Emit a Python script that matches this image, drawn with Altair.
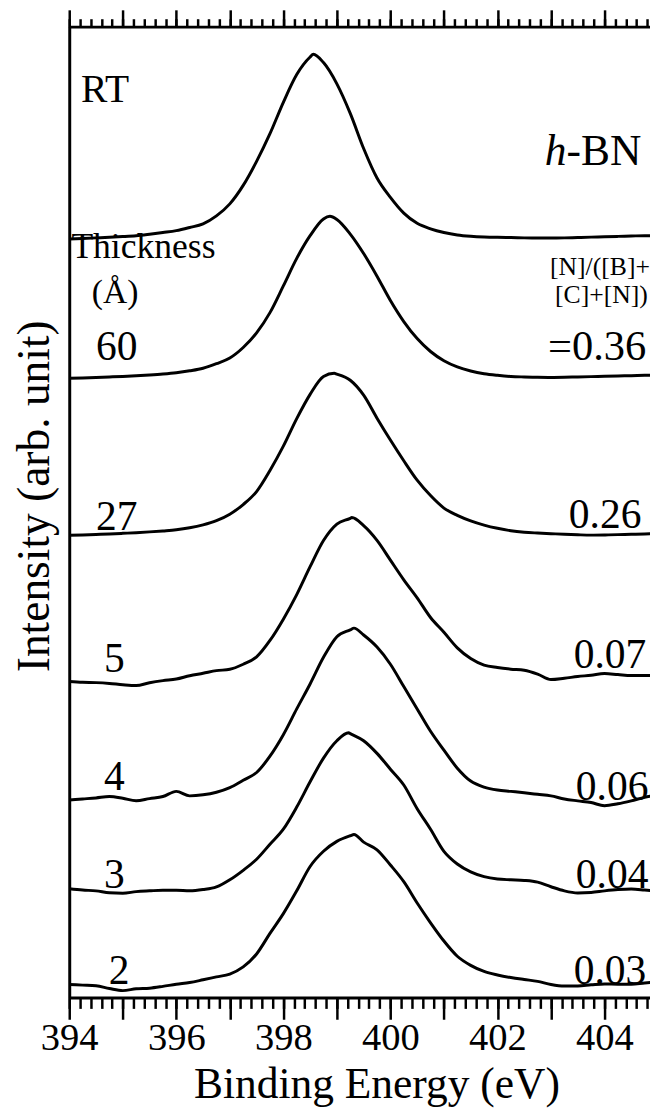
import altair as alt
import pandas as pd

# ---------------- data ----------------
energy = [394.0, 394.25, 394.5, 394.75, 395.0, 395.25, 395.5, 395.75, 396.0, 396.25,
          396.5, 396.75, 397.0, 397.25, 397.5, 397.75, 398.0, 398.25, 398.5, 398.75,
          399.0, 399.25, 399.5, 399.75, 400.0, 400.25, 400.5, 400.75, 401.0, 401.25,
          401.5, 401.75, 402.0, 402.25, 402.5, 402.75, 403.0, 403.25, 403.5, 403.75,
          404.0, 404.25, 404.5, 404.75, 404.9]

# normalised N1s intensity (% of peak) for each spectrum
int_RT = [0, 0.3, 0.6, 0.9, 1.3, 1.8, 2.6, 3.5, 4.5, 6.2, 8.2, 12.5,
          19, 29, 42, 57, 74, 89, 98.5, 95.5, 84, 68, 49, 33,
          22.5, 14, 8.5, 5.5, 3.5, 2.2, 1.5, 1.1, 0.9, 0.8, 0.6, 0.5,
          0.5, 0.6, 0.8, 1.0, 1.2, 1.4, 1.6, 1.8, 1.8]
int_60 = [0, 0.2, 0.5, 0.8, 1.1, 1.5, 2, 2.6, 3.4, 4.6, 6.2, 9,
          12.5, 19, 28, 40.5, 57, 74, 88, 98.3, 98, 89, 77, 63,
          48, 35, 24.5, 16.5, 10.8, 7, 4.5, 2.8, 1.8, 1.1, 0.8, 0.6,
          0.5, 0.6, 0.8, 1.0, 1.2, 1.4, 1.6, 1.8, 1.9]
int_27 = [0, 0.2, 0.5, 0.8, 1.2, 1.6, 2.1, 2.7, 3.4, 4.6, 6.4, 9,
          13, 19, 27, 40, 55, 72, 87, 98, 99.5, 95.7, 86.5, 72.3,
          58.8, 46, 34, 24.5, 16.8, 12.3, 8.9, 6.3, 4.3, 2.8, 1.9, 1.4,
          1, 0.6, 0.3, 0.1, 0.2, 0.4, 0.6, 0.8, 1]
int_5 = [0, -0.5, -0.7, -1.2, -2, -2.5, -0.8, 0.5, 1.5, 3.5, 5, 6.6,
         7.4, 10.5, 15, 25, 38, 53, 70, 86, 96, 99.5, 95, 86,
         74, 62, 51, 39, 30, 20.5, 14, 10, 8.5, 7.5, 6.8, 4.5,
         1.2, 2, 3, 3.8, 4.8, 4.2, 3.6, 3.7, 3.7]
int_4 = [0, 0.6, 1.2, 2, 1, -0.5, 0.8, 2, 5, 2.4, 3, 4.5,
         7.2, 11.5, 16, 25.5, 38, 53, 67.5, 83, 95, 99, 96, 89,
         79, 66, 53, 40, 29, 18.5, 11, 7.5, 5.8, 5, 4.2, 3.3,
         2.4, 0.6, -0.5, -1.5, -3.3, -2.2, -0.5, 1.5, 2.4]
int_3 = [1.3, 0.5, 0, -1.2, -1.5, -0.5, 0, 0.4, 0.4, 0, 0.8, 2.5,
         7, 13, 20, 29.5, 39, 53, 69, 84, 95, 99.5, 95, 87,
         77, 67, 52, 39, 25, 17, 12, 9, 7.5, 7, 6.6, 5.5,
         2.6, 0, -1.3, -1, 0, 0.8, 1.2, 0.5, 0]
int_2 = [1.4, 1, 0.6, -1.2, -2.6, -1.4, -1, 0.2, 1.6, 2.7, 4.5, 6.4,
         8.3, 13, 21.5, 35, 48, 63, 79, 89, 95.5, 99.2, 95, 90,
         80, 69, 55, 42, 30, 20, 14, 10, 7.7, 6, 4.7, 3.5,
         1.4, 0.4, 0.5, 1.2, 1.8, 1.6, 1.6, 2.4, 2.8]

spectra = ["RT", "60", "27", "5", "4", "3", "2"]
intensities = [int_RT, int_60, int_27, int_5, int_4, int_3, int_2]
# maximum of each peak (binding energy, eV), intensity 100 %
peak_energy = [398.56, 398.87, 398.95, 399.28, 399.32, 399.22, 399.32]
# vertical stacking offset and peak height of each trace (arb. unit)
offsets = [768, 627, 468, 320, 200, 108, 11]
peak_heights = [187, 164, 164, 166, 174, 160, 154]

# annotations
left_text = ["RT", "Thickness", "(Å)", "60", "27", "5", "4", "3", "2"]
left_x = [394.22, 394.04, 394.42, 394.5, 394.5, 394.65, 394.65, 394.65, 394.74]
left_y = [907, 749, 703, 645, 473, 330, 210, 111, 14]
left_size = [40, 36, 34, 42, 42, 42, 42, 42, 42]

right_text = ["[N]/([B]+", "[C]+[N])", "=0.36", "0.26", "0.07", "0.06", "0.04", "0.03", "-BN"]
right_x = [404.85, 404.81, 404.78, 404.69, 404.78, 404.82, 404.82, 404.78, 404.69]
right_y = [732, 703, 645, 475, 334, 200, 111, 14, 843]
right_size = [26, 26, 43, 42, 42, 42, 42, 42, 44]

italic_text = ["h"]
italic_x = [403.29]
italic_y = [843]
italic_size = [44]

even_ticks = [394, 396, 398, 400, 402, 404]
odd_ticks = [395, 397, 399, 401, 403]
major_ticks = [394, 395, 396, 397, 398, 399, 400, 401, 402, 403, 404]
minor_ticks = [round(394 + 0.2 * i, 1) for i in range(55)]

# ---------------- build tables ----------------
rows = []
for name, vals, pe, off, ph in zip(spectra, intensities, peak_energy, offsets, peak_heights):
    pts = list(zip(energy, vals)) + [(pe, 100.0)]
    pts.sort(key=lambda p: p[0])
    for e, v in pts:
        rows.append({"energy": e, "signal": off + ph * v / 100.0, "spectrum": name})
df = pd.DataFrame(rows)

left_df = pd.DataFrame({"t": left_text, "x": left_x, "y": left_y, "s": left_size})
right_df = pd.DataFrame({"t": right_text, "x": right_x, "y": right_y, "s": right_size})
ital_df = pd.DataFrame({"t": italic_text, "x": italic_x, "y": italic_y, "s": italic_size})

FONT = "Liberation Serif"
TOP = 20                      # y pixel of the top frame line
W, H = 588, 1003 - TOP
xscale = alt.Scale(domain=[394, 404.85], nice=False, zero=False)
yscale = alt.Scale(domain=[0, H], nice=False, zero=False)

yaxis = alt.Axis(
    orient="left", ticks=False, labels=False, grid=False,
    domainColor="black", domainWidth=3,
    title="Intensity (arb. unit)", titleFont=FONT, titleFontSize=46,
    titleFontWeight="normal", titleColor="black", titleAngle=270,
    titleBaseline="alphabetic", titleAlign="center", titleX=-21, titleY=495 - TOP)

lines = alt.Chart(df).mark_line(
    color="black", strokeWidth=3, interpolate="monotone", clip=True
).encode(
    x=alt.X("energy:Q", scale=xscale, axis=alt.Axis(
        orient="bottom", values=even_ticks, tickSize=22, tickWidth=2.5,
        tickColor="black", domainColor="black", domainWidth=3, grid=False,
        labelFont=FONT, labelFontSize=39, labelColor="black",
        labelBaseline="alphabetic", labelPadding=31,
        labelFlush=False, labelOverlap=False,
        title="Binding Energy (eV)", titleFont=FONT, titleFontSize=44,
        titleFontWeight="normal", titleColor="black", titleBaseline="alphabetic",
        titleAlign="center", titleX=311, titleY=101)),
    y=alt.Y("signal:Q", scale=yscale, axis=yaxis),
    detail="spectrum:N",
)

def tick_layer(values, orient, size, domain):
    data = pd.DataFrame({"v": values})
    return alt.Chart(data).mark_rule(strokeOpacity=0).encode(
        x=alt.X("v:Q", scale=xscale, axis=alt.Axis(
            orient=orient, values=values, tickSize=size, tickWidth=2.5,
            tickColor="black", labels=False, title=None, grid=False,
            domain=domain, domainColor="black", domainWidth=3))
    )

bottom_odd = tick_layer(odd_ticks, "bottom", 22, False)
bottom_minor = tick_layer(minor_ticks, "bottom", 11, False)
top_major = tick_layer(major_ticks, "top", 17, True)
top_minor = tick_layer(minor_ticks, "top", 8, False)

def text_layer(data, align, style="normal"):
    return alt.Chart(data).mark_text(
        align=align, baseline="alphabetic", font=FONT, color="black", fontStyle=style
    ).encode(
        x=alt.X("x:Q", scale=xscale, axis=None),
        y=alt.Y("y:Q", scale=yscale, axis=yaxis),
        text="t:N",
        size=alt.Size("s:Q", scale=None, legend=None),
    )

chart = alt.layer(
    lines, bottom_odd, bottom_minor, top_major, top_minor,
    text_layer(left_df, "left"), text_layer(right_df, "right"),
    text_layer(ital_df, "right", "italic"),
).resolve_axis(x="independent", y="shared").properties(
    width=W, height=H,
    autosize=alt.AutoSizeParams(type="none"),
    padding={"left": 62, "top": TOP - 8, "right": 0, "bottom": 1116 - 8 - 1003},
    background="white",
).configure_view(stroke=None)

chart.save("out.html", embed_options={"renderer": "svg", "actions": False})
